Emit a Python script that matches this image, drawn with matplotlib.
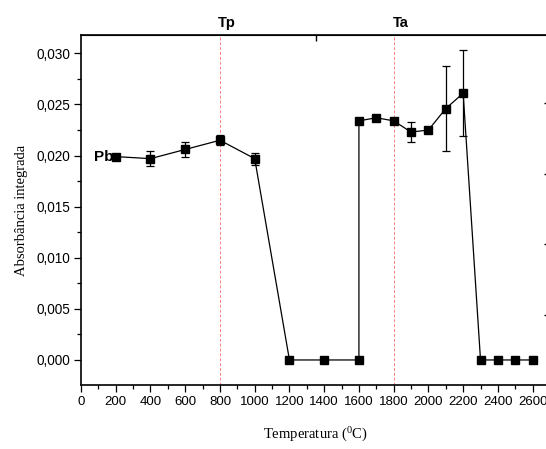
import matplotlib
matplotlib.use("Agg")
import matplotlib.pyplot as plt
from matplotlib.ticker import MultipleLocator, FuncFormatter

temps = [200, 400, 600, 800, 1000, 1200, 1400, 1600, 1600, 1700, 1800, 1900, 2000, 2100, 2200, 2300, 2400, 2500, 2600]
absorb = [0.0199, 0.0197, 0.0206, 0.0215, 0.0197, 0.0, 0.0, 0.0, 0.0234, 0.0237, 0.0234, 0.0223, 0.0225, 0.0246, 0.0261, 0.0, 0.0, 0.0, 0.0]
errors = [0.0, 0.0007, 0.0007, 0.0005, 0.0006, 0.0, 0.0, 0.0, 0.0, 0.0, 0.0, 0.0010, 0.0, 0.0042, 0.0042, 0.0, 0.0, 0.0, 0.0]
ref_temps = [800, 1800]
ref_labels = ["Tp", "Ta"]
right_ticks = [0.02514, 0.01819, 0.01135, 0.0044]
top_ticks = [1354]

plt.rcParams['font.family'] = ['Liberation Sans', 'DejaVu Sans']
plt.rcParams['mathtext.fontset'] = 'custom'
plt.rcParams['mathtext.rm'] = 'Liberation Serif'
plt.rcParams['mathtext.it'] = 'Liberation Serif'

fig = plt.figure(figsize=(5.46, 4.49), dpi=100)
ax = fig.add_axes([81/546, 64/449, (550-81)/546, (385-35)/449])

ax.set_xlim(0, 2700)
ax.set_ylim(-0.00245, 0.0318)

for t in ref_temps:
    ax.axvline(t, color='#ff8080', lw=0.7, ls=(0, (3, 2)), zorder=1)

ax.plot(temps, absorb, color='black', lw=0.9, marker='s', ms=6.3,
        mfc='black', mec='black', zorder=3)
for x, y, e in zip(temps, absorb, errors):
    if e > 0:
        ax.errorbar([x], [y], yerr=[e], fmt='none', ecolor='black',
                    elinewidth=0.9, capsize=3.2, capthick=0.9, zorder=2)

for t, lab in zip(ref_temps, ref_labels):
    ax.text(t + 40, 1.0 + 0.015, lab, transform=ax.get_xaxis_transform(),
            ha='center', va='bottom', fontsize=10.5, fontweight='bold')

ax.text(185, absorb[0], "Pb", ha='right', va='center', fontsize=11, fontweight='bold')

ax.xaxis.set_major_locator(MultipleLocator(200))
ax.xaxis.set_minor_locator(MultipleLocator(100))
ax.yaxis.set_major_locator(MultipleLocator(0.005))
ax.yaxis.set_minor_locator(MultipleLocator(0.0025))
ax.yaxis.set_major_formatter(FuncFormatter(lambda v, p: f"{v:.3f}".replace('.', ',')))
ax.xaxis.set_major_formatter(FuncFormatter(lambda v, p: f"{int(round(v))}"))

ax.tick_params(axis='x', which='major', direction='out', length=5, width=0.9, labelsize=9.5, pad=3)
ax.tick_params(axis='x', which='minor', direction='out', length=3, width=0.9)
ax.tick_params(axis='y', which='major', direction='out', length=5, width=0.9, labelsize=9.8, pad=3)
ax.tick_params(axis='y', which='minor', direction='out', length=3, width=0.9)
ax.tick_params(top=False, right=False)

for s in ax.spines.values():
    s.set_linewidth(1.2)
ax.spines['right'].set_visible(False)

secx = ax.secondary_xaxis('top')
secx.set_xticks(top_ticks)
secx.set_xticklabels([])
secx.tick_params(direction='in', length=4, width=1)

secy = ax.secondary_yaxis('right')
secy.set_yticks(right_ticks)
secy.set_yticklabels([])
secy.tick_params(direction='in', length=4, width=1)
secy.spines['right'].set_visible(False)

ax.set_ylabel("Absorbância integrada", family=['Liberation Serif'], fontsize=10.5, labelpad=6)
ax.set_xlabel("Temperatura ($^{0}$C)", family=['Liberation Serif'], fontsize=10.5, labelpad=13)

fig.savefig("out.png", dpi=100)
